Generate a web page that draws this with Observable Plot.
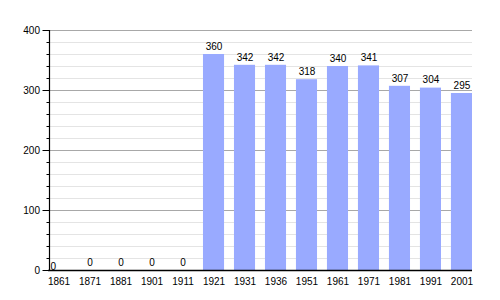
<!DOCTYPE html>
<html><head><meta charset="utf-8">
<script src="https://cdn.jsdelivr.net/npm/d3@7"></script>
<script src="https://cdn.jsdelivr.net/npm/@observablehq/plot@0.6"></script>
<style>body{margin:0;background:#fff}</style>
</head><body><div id="chart"></div>
<script>
const years = ["1861","1871","1881","1901","1911","1921","1931","1936","1951","1961","1971","1981","1991","2001"];
const population = [0,0,0,0,0,360,342,342,318,340,341,307,304,295];
const majorTicks = [0,100,200,300,400];
const minorTicks = d3.range(0,401,20).filter(v => v % 100 !== 0);

const data = years.map((y,i) => ({year:y, value:population[i], i}));

const plot = Plot.plot({
  width: 500, height: 300,
  marginLeft: 48, marginRight: 28, marginTop: 30, marginBottom: 30,
  style: {fontFamily: "'Liberation Sans', Arial, sans-serif", fontSize: "10px", color: "black", background: "white"},
  x: {type: "band", domain: years, paddingInner: 0.32, paddingOuter: 0, round: false, label: null},
  y: {domain: [0,400], label: null},
  marks: [
    Plot.ruleY(minorTicks, {stroke: "#e4e4e4", strokeWidth: 1}),
    Plot.ruleY(majorTicks.filter(v => v > 0), {stroke: "#a8a8a8", strokeWidth: 1}),
    Plot.barY(data, {x: "year", y: "value", fill: "#99aaff"}),
    Plot.axisY({ticks: majorTicks, tickSize: 7, tickPadding: 3, fontSize: 10, stroke: "black", dx: 1.5}),
    Plot.axisY({ticks: minorTicks, tickSize: 3, text: null, stroke: "black", dx: 1.5}),
    Plot.axisX({tickSize: 0, tickPadding: 7, fontSize: 10}),
    Plot.ruleY([0], {stroke: "black", strokeWidth: 1.5}),
    Plot.text(data.filter(d => d.i > 0), {x: "year", y: "value", text: d => String(d.value), dy: -8, fontSize: 10, fill: "black"}),
    Plot.text(data.filter(d => d.i === 0), {x: "year", y: "value", text: d => String(d.value), dy: -4, dx: -8.5, textAnchor: "start", fontSize: 10, fill: "black"})
  ]
});
const ys = plot.scale("y");
d3.select(plot).append("line")
  .attr("x1", 49.5).attr("x2", 49.5)
  .attr("y1", ys.apply(0)).attr("y2", ys.apply(400))
  .attr("stroke", "black").attr("stroke-width", 1.2);
document.getElementById("chart").appendChild(plot);
</script>
</body></html>
